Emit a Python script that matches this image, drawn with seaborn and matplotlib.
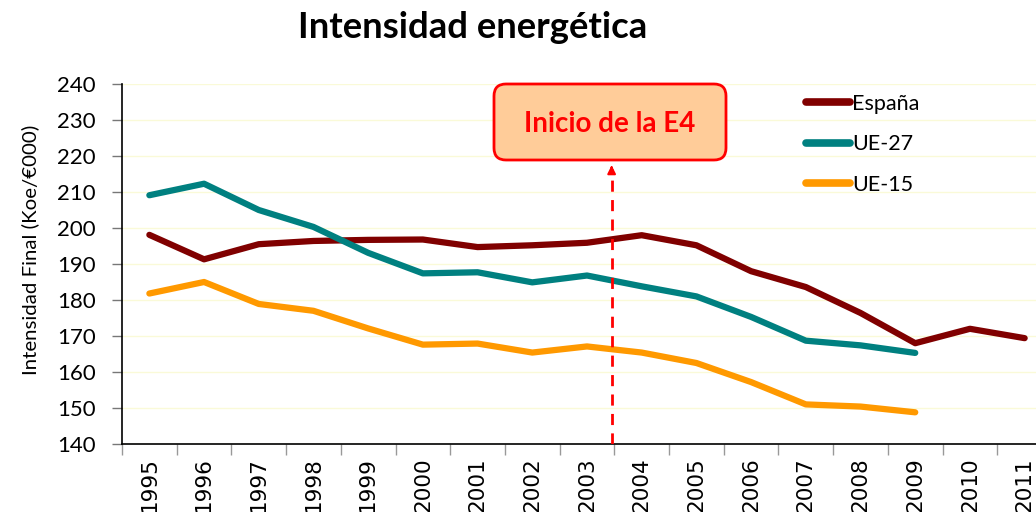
import pandas as pd
import numpy as np
import matplotlib as mpl
import matplotlib.pyplot as plt
import seaborn as sns
from matplotlib.patches import FancyBboxPatch
from matplotlib.transforms import IdentityTransform

years = list(range(1995, 2012))
espana = [198.1, 191.3, 195.5, 196.4, 196.7, 196.8, 194.7, 195.2, 195.9, 198.0,
          195.2, 188.0, 183.6, 176.4, 168.0, 172.0, 169.4]
ue27 = [209.1, 212.3, 205.0, 200.3, 193.1, 187.4, 187.7, 184.9, 186.8, 183.8,
        181.0, 175.3, 168.7, 167.4, 165.3, np.nan, np.nan]
ue15 = [181.8, 185.0, 178.9, 177.0, 172.1, 167.6, 167.9, 165.4, 167.1, 165.4,
        162.5, 157.2, 151.0, 150.4, 148.8, np.nan, np.nan]
series_names = ['España', 'UE-27', 'UE-15']
colors = {'España': '#800000', 'UE-27': '#008080', 'UE-15': '#FF9900'}

df = pd.DataFrame({'year': years, 'España': espana, 'UE-27': ue27, 'UE-15': ue15})
long = df.melt(id_vars='year', value_vars=series_names, var_name='serie', value_name='valor').dropna()

sns.set_style('white')
plt.rcParams['font.family'] = ['Lato', 'DejaVu Sans']
plt.rcParams['text.color'] = 'black'
plt.rcParams['xtick.color'] = 'black'
plt.rcParams['ytick.color'] = 'black'

fig = plt.figure(figsize=(10.36, 5.12), dpi=100)
ax = fig.add_axes([122/1036, 68/512, 930/1036, 360/512])

sns.lineplot(data=long, x='year', y='valor', hue='serie', hue_order=series_names,
             palette=colors, linewidth=4.5, ax=ax, legend=True)
for ln in ax.lines:
    ln.set_solid_capstyle('round')
    ln.set_solid_joinstyle('round')

ax.set_xlim(1994.5, 2011.5)
ax.set_ylim(140, 240)
ax.set_yticks(range(140, 241, 10))
ax.yaxis.grid(True, color='#FAFAD8', linewidth=1)
ax.set_axisbelow(True)

ax.set_xticks(years)
ax.set_xticklabels([str(y) for y in years], rotation=90, fontsize=15.5, family='DejaVu Sans')
ax.set_xticks(np.arange(1994.5, 2012, 1), minor=True)
ax.tick_params(axis='x', which='major', length=0, pad=9.5)
ax.tick_params(axis='x', which='minor', length=8, color='#999999', width=1, direction='out', bottom=True)
ax.tick_params(axis='y', which='major', length=7, width=1, color='#777777', direction='out', left=True,
               labelsize=16, pad=12)

for s in ['top', 'right']:
    ax.spines[s].set_visible(False)
for s in ['left', 'bottom']:
    ax.spines[s].set_color('black')
    ax.spines[s].set_linewidth(1.2)

ax.set_xlabel('')
ax.set_ylabel('')
fig.text(30/1036, 1 - 250/512, 'Intensidad Final (Koe/€000)', rotation=90,
         ha='center', va='center', fontsize=14.7)

fig.text(473/1036, 1 - 28/512, 'Intensidad energética', ha='center', va='center',
         fontsize=26.3, fontweight='bold')

handles, labels = ax.get_legend_handles_labels()
leg = ax.legend(handles, labels, loc='upper left', bbox_to_anchor=(806/1036, 1 - 94/512),
                bbox_transform=fig.transFigure, frameon=False, fontsize=15.5,
                handlelength=2.05, handletextpad=0.1, labelspacing=0.95,
                borderpad=0, borderaxespad=0)
for h in leg.get_lines():
    h.set_linewidth(5.5)
    h.set_solid_capstyle('round')

# E4 annotation
box = FancyBboxPatch((494, 512 - 160), 232, 76, boxstyle='round,pad=0,rounding_size=12',
                     transform=IdentityTransform(), facecolor='#FFCC99', edgecolor='#FF0000',
                     linewidth=2, zorder=5)
fig.patches.append(box)
fig.text(610/1036, 1 - 124/512, 'Inicio de la E4', ha='center', va='center',
         fontsize=20, fontweight='bold', color='#FF0000', zorder=6)

ax.vlines(2003.45, 140, 216.5, colors='#FF0000', linestyles=(0, (4, 3)), linewidth=2, zorder=4)
ax.annotate('', xy=(2003.45, 218.2), xytext=(2003.45, 215.5),
            arrowprops=dict(arrowstyle='-|>', color='#FF0000', lw=1.5, mutation_scale=12))

fig.savefig('out.png', dpi=100)
